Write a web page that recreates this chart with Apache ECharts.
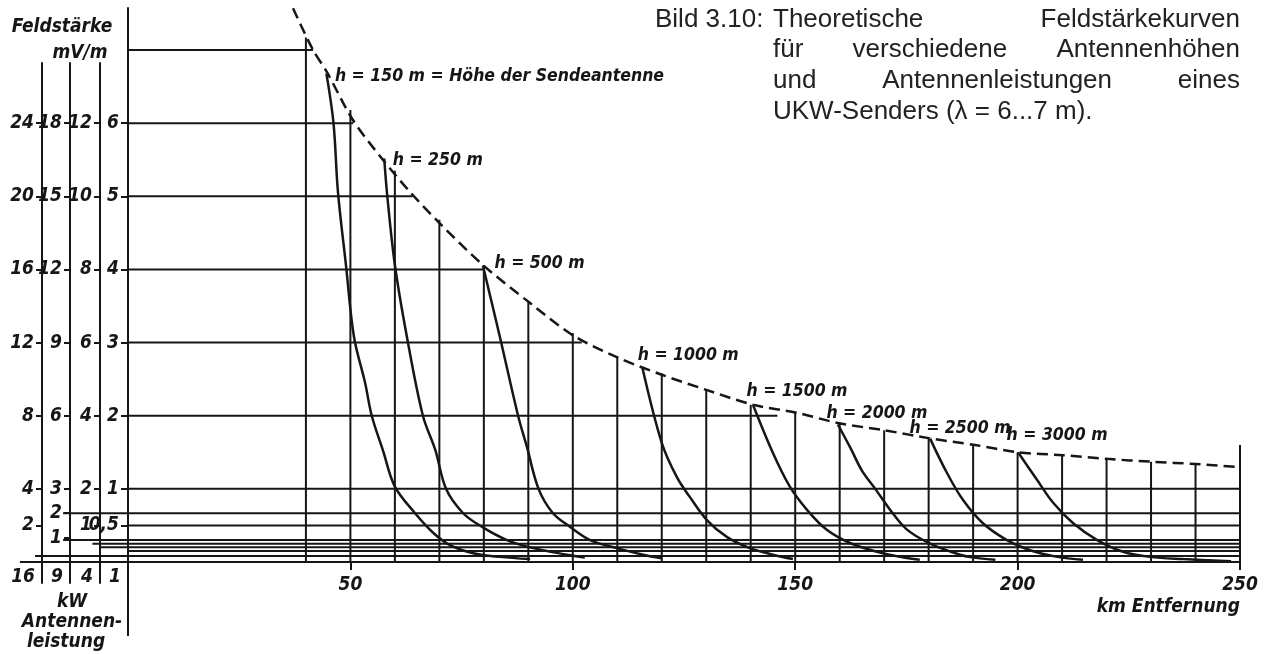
<!DOCTYPE html>
<html>
<head>
<meta charset="utf-8">
<script src="https://cdn.jsdelivr.net/npm/echarts@6.0.0/dist/echarts.min.js"></script>
<style>
  html, body { margin: 0; padding: 0; background: #fff; }
  #chart { width: 1265px; height: 654px; }
</style>
</head>
<body>
<div id="chart"></div>
<script>
// distance in km, field strength in mV/m referred to 1 kW
const distTicks = [50, 100, 150, 200, 250];

const scale1kW = [0.5, 1, 2, 3, 4, 5, 6];
const scale4kW = [0.5, 1, 2, 4, 6, 8, 10, 12];
const scale9kW = [1, 2, 3, 6, 9, 12, 15, 18];
const scale16kW = [1, 2, 4, 8, 12, 16, 20, 24];

const verticalKm = [40, 50, 60, 70, 80, 90, 100, 110, 120, 130, 140, 150, 160, 170, 180, 190, 200, 210, 220, 230, 240, 250];
const verticalTop = [7.17, 6.18, 5.35, 4.68, 4.06, 3.55, 3.13, 2.81, 2.58, 2.35, 2.15, 2.04, 1.9, 1.8, 1.69, 1.6, 1.5, 1.46, 1.41, 1.37, 1.34, 1.6];

const rowLevels = [7, 6, 5, 4, 3, 2, 1, 0.667, 0.5, 0.3, 0.25, 0.2, 0.15, 0.083, 0];
const rowFrom = [0, 0, 0, 0, 0, 0, 0, -14.6, 0, -14.6, -8, -6.3, 0, -20.9, -24.3];
const rowTo = [41.6, 50.6, 64, 79.8, 102, 146, 250, 250, 250, 250, 250, 250, 250, 250, 250];

const envelope = [
  [37.1, 7.57], [41.6, 7.0], [44.7, 6.7], [50.6, 6.04], [57.3, 5.5], [63.4, 5.06], [70.1, 4.63],
  [79.8, 4.06], [90.4, 3.54], [100, 3.1], [109.9, 2.8], [120, 2.56], [130.2, 2.35], [140.5, 2.15],
  [150.4, 2.04], [159.6, 1.9], [170.2, 1.8], [180.3, 1.69], [190.4, 1.6], [200.1, 1.5], [210.2, 1.46],
  [220.1, 1.41], [230.4, 1.37], [239.9, 1.34], [249.6, 1.3]
];

const curveNames = ['h = 150 m = Höhe der Sendeantenne', 'h = 250 m', 'h = 500 m', 'h = 1000 m',
  'h = 1500 m', 'h = 2000 m', 'h = 2500 m', 'h = 3000 m'];

const h150 = [[44.6, 6.68], [46.2, 6.0], [47.2, 5.06], [49.0, 4.06], [50.8, 3.08], [53.3, 2.45], [54.8, 2.0],
  [57.3, 1.53], [60.0, 1.03], [64.5, 0.67], [68.6, 0.4], [72.4, 0.23], [77.6, 0.12], [83.6, 0.07], [90.4, 0.04]];
const h250 = [[57.6, 5.52], [58.3, 5.0], [60.0, 4.06], [62.7, 3.08], [66.3, 2.0], [69.1, 1.53], [71.5, 1.0],
  [75.3, 0.67], [79.6, 0.48], [85.2, 0.3], [91.1, 0.19], [98.7, 0.1], [102.7, 0.06]];
const h500 = [[79.8, 4.05], [83.6, 3.08], [87.7, 2.0], [89.7, 1.57], [92.3, 1.0], [95.5, 0.67], [99.4, 0.48],
  [103.9, 0.3], [109.9, 0.19], [115.8, 0.1], [120, 0.05]];
const h1000 = [[115.6, 2.67], [120, 1.63], [123.4, 1.16], [126.3, 0.89], [130.2, 0.57], [134.7, 0.34],
  [139.8, 0.19], [145, 0.1], [149.5, 0.04]];
const h1500 = [[140.5, 2.15], [145, 1.49], [148.8, 1.03], [152.7, 0.71], [157.1, 0.44], [162.3, 0.26],
  [168.4, 0.14], [173.6, 0.07], [178, 0.03]];
const h2000 = [[159.6, 1.88], [162.5, 1.55], [165, 1.25], [168, 1.0], [171.5, 0.7], [175, 0.45], [180, 0.26],
  [185, 0.14], [189, 0.07], [195, 0.03]];
const h2500 = [[180.3, 1.69], [184.1, 1.22], [187.7, 0.85], [192.2, 0.53], [197.6, 0.3], [202.8, 0.16],
  [208.9, 0.07], [214.7, 0.03]];
const h3000 = [[200.1, 1.5], [204.4, 1.12], [208, 0.81], [212.5, 0.53], [217.9, 0.3], [223.7, 0.14],
  [229.8, 0.07], [237.2, 0.04], [248, 0.01]];

const curves = [h150, h250, h500, h1000, h1500, h2000, h2500, h3000];

// ---- layout (pixels) ----
const W = 1265, H = 654;
const X_KM0 = 128, X_KM250 = 1240;
const Y_ZERO = 562, Y_SEVEN = 50;
const PPU = (Y_ZERO - Y_SEVEN) / 7;
const AXIS_TOP = 8, AXIS_BOTTOM = 636;
const SCALE_TOP = 63, SCALE_BOTTOM = 583;

const INK = '#161616';
const LETTER = '"DejaVu Sans Condensed", "Liberation Sans Narrow", "DejaVu Sans", sans-serif';
const PRINT = '"Liberation Sans", Arial, sans-serif';
const LETTER_FONT = 'italic bold 19px ' + LETTER;
const PRINT_FONT = '26px ' + PRINT;

const labelOffsets = [[9, 4], [9, 3], [12, -2], [-4, -11], [-6, -13], [-11, -11], [-20, -9], [-11, -16]];

const comma = (v) => String(v).replace('.', ',');
const letterStyle = { color: INK, fontStyle: 'italic', fontWeight: 'bold', fontSize: 19, fontFamily: LETTER };

const scaleMin = -(SCALE_BOTTOM - Y_ZERO) / PPU;
const scaleMax = (Y_ZERO - SCALE_TOP) / PPU;

function scaleAxis(k, offset, name, values) {
  return {
    gridIndex: 1, type: 'value', position: 'left', offset,
    min: scaleMin * k, max: scaleMax * k,
    axisLine: { show: values.length > 0, onZero: false, lineStyle: { color: INK, width: 2 } },
    axisTick: { show: values.length > 0, customValues: values, length: 6, lineStyle: { color: INK, width: 2 } },
    axisLabel: { show: values.length > 0, customValues: values, margin: 8, hideOverlap: false, formatter: comma, ...letterStyle },
    splitLine: { show: false },
    name, nameLocation: 'start', nameGap: -6, nameMoveOverlap: false,
    nameTextStyle: { ...letterStyle, align: 'right', verticalAlign: 'middle', padding: [0, 7, 0, 0] }
  };
}

// justified caption text, measured with the same font
const measure = document.createElement('canvas').getContext('2d');
function justify(words, left, right, y) {
  measure.font = PRINT_FONT;
  const widths = words.map((w) => measure.measureText(w).width);
  const gap = (right - left - widths.reduce((a, b) => a + b, 0)) / (words.length - 1);
  let x = left;
  return words.map((w, i) => {
    const el = { type: 'text', x, y, style: { text: w, font: PRINT_FONT, fill: '#222', align: 'left', verticalAlign: 'middle' } };
    x += widths[i] + gap;
    return el;
  });
}
function note(text, x, y, align) {
  return { type: 'text', x, y, style: { text, font: LETTER_FONT, fill: INK, align: align || 'center', verticalAlign: 'middle' } };
}

// [x, from, to] at level, or [x, top] upright from zero
const lineRenderer = (horizontal) => (params, api) => {
  const a = horizontal ? api.coord([api.value(0), api.value(2)]) : api.coord([api.value(0), 0]);
  const b = horizontal ? api.coord([api.value(1), api.value(2)]) : api.coord([api.value(0), api.value(1)]);
  return { type: 'line', shape: { x1: a[0], y1: a[1], x2: b[0], y2: b[1] }, style: { stroke: INK, lineWidth: 2 } };
};

const chart = echarts.init(document.getElementById('chart'), null, { renderer: 'canvas' });

chart.setOption({
  animation: false,
  backgroundColor: '#fff',
  grid: [
    { left: X_KM0, right: W - X_KM250, top: AXIS_TOP, bottom: H - Y_ZERO, outerBoundsMode: 'none' },
    { left: X_KM0, right: W - X_KM250, top: SCALE_TOP, bottom: H - SCALE_BOTTOM, outerBoundsMode: 'none' }
  ],
  xAxis: [
    {
      gridIndex: 0, type: 'value', min: 0, max: 250,
      axisLine: { show: true, onZero: false, lineStyle: { color: INK, width: 2 } },
      axisTick: { show: true, customValues: distTicks, length: 8, lineStyle: { color: INK, width: 2 } },
      axisLabel: { customValues: distTicks, margin: 14, ...letterStyle },
      splitLine: { show: false },
      name: 'km Entfernung', nameLocation: 'end', nameGap: 0, nameMoveOverlap: false,
      nameTextStyle: { ...letterStyle, align: 'right', verticalAlign: 'top', padding: [36, 0, 0, 0] }
    },
    { gridIndex: 1, type: 'value', min: 0, max: 250, show: false }
  ],
  yAxis: [
    {
      gridIndex: 0, type: 'value', position: 'left',
      min: 0, max: (Y_ZERO - AXIS_TOP) / PPU,
      axisLine: { show: true, onZero: false, lineStyle: { color: INK, width: 2 } },
      axisTick: { show: true, customValues: scale1kW, length: 7, lineStyle: { color: INK, width: 2 } },
      axisLabel: { customValues: scale1kW, margin: 9, hideOverlap: false, formatter: comma, ...letterStyle },
      splitLine: { show: false }
    },
    scaleAxis(2, X_KM0 - 100, '4', scale4kW),
    scaleAxis(3, X_KM0 - 70, '9', scale9kW),
    scaleAxis(4, X_KM0 - 42, '16', scale16kW),
    scaleAxis(1, 0, '1', [])
  ],
  graphic: [
    note('Feldstärke', 62, 27),
    note('mV/m', 80, 53),
    note('kW', 72, 602),
    note('Antennen-', 72, 622),
    note('leistung', 66, 642),
    { type: 'text', x: 655, y: 20, style: { text: 'Bild 3.10:', font: PRINT_FONT, fill: '#222', align: 'left', verticalAlign: 'middle' } },
    ...justify(['Theoretische', 'Feldstärkekurven'], 773, 1240, 20),
    ...justify(['für', 'verschiedene', 'Antennenhöhen'], 773, 1240, 50),
    ...justify(['und', 'Antennenleistungen', 'eines'], 773, 1240, 81),
    { type: 'text', x: 773, y: 112, style: { text: 'UKW-Senders (λ = 6...7 m).', font: PRINT_FONT, fill: '#222', align: 'left', verticalAlign: 'middle' } }
  ],
  series: [
    {
      type: 'custom', name: 'rows', xAxisIndex: 0, yAxisIndex: 0, silent: true, clip: false,
      data: rowLevels.map((v, i) => [rowFrom[i], rowTo[i], v]),
      renderItem: lineRenderer(true)
    },
    {
      type: 'custom', name: 'columns', xAxisIndex: 0, yAxisIndex: 0, silent: true, clip: false,
      data: verticalKm.map((x, i) => [x, verticalTop[i]]),
      renderItem: lineRenderer(false)
    },
    {
      // main axis continues below the distance axis
      type: 'custom', name: 'axis stub', xAxisIndex: 0, yAxisIndex: 0, silent: true, clip: false,
      data: [[0, -(AXIS_BOTTOM - Y_ZERO) / PPU]],
      renderItem: lineRenderer(false)
    },
    {
      type: 'line', name: 'envelope', xAxisIndex: 0, yAxisIndex: 0, silent: true, clip: false,
      data: envelope, symbol: 'none', smooth: 0.3,
      lineStyle: { color: INK, width: 2.5, type: [11, 6] }
    },
    ...curves.map((pts, i) => ({
      type: 'line', name: curveNames[i], xAxisIndex: 0, yAxisIndex: 0, silent: true, clip: false,
      symbol: 'none', smooth: 0.35,
      lineStyle: { color: INK, width: 2.5 },
      data: pts.map((p, j) => j === 0 ? {
        value: p, symbol: 'circle', symbolSize: 1,
        label: {
          show: true, formatter: curveNames[i], position: labelOffsets[i],
          align: 'left', verticalAlign: 'middle', ...letterStyle, fontSize: 17.5
        }
      } : p)
    }))
  ]
});
</script>
</body>
</html>
